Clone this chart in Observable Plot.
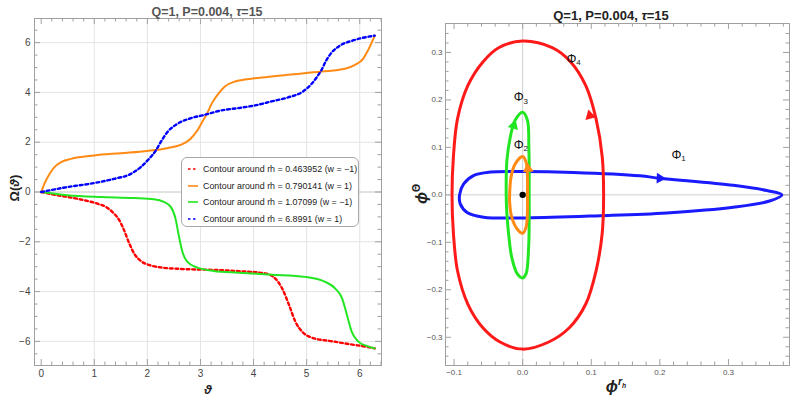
<!DOCTYPE html>
<html><head><meta charset="utf-8">
<script src="https://cdn.jsdelivr.net/npm/d3@7"></script>
<script src="https://cdn.jsdelivr.net/npm/@observablehq/plot@0.6"></script>
<style>
body{margin:0;background:#fff;font-family:"Liberation Sans",Arial,sans-serif;}
#wrap{position:relative;width:796px;height:418px;overflow:hidden;background:#fff;}
#left,#right{position:absolute;top:0;}
#left{left:0;} #right{left:400px;}
.lbl{position:absolute;white-space:nowrap;transform:translate(-50%,-50%);line-height:1;}
#legend{position:absolute;left:181px;top:157px;width:178px;height:70px;border:1px solid #a8a8a8;border-radius:6px;background:#fff;box-sizing:border-box;padding-top:3px;}
.row{height:16.5px;display:flex;align-items:center;font-size:8.9px;color:#222;white-space:nowrap;}
.row svg{margin-left:6px;margin-right:5px;flex:none;}
sup,sub{font-size:65%;}
</style></head>
<body><div id="wrap"><div id="left"></div><div id="right"></div></div>
<script>
// ---------- Left panel data: Omega(theta) ----------
const redCurve = [[0,0],[0.25,-0.11],[0.5,-0.2],[0.81,-0.33],[1.06,-0.47],[1.22,-0.6],[1.34,-0.8],[1.47,-1.13],[1.56,-1.53],[1.66,-2.07],[1.75,-2.47],[1.875,-2.77],[2.03,-2.93],[2.25,-3.03],[2.625,-3.09],[3.25,-3.13],[3.72,-3.18],[4.22,-3.27],[4.41,-3.48],[4.54,-3.88],[4.67,-4.55],[4.79,-5.22],[4.92,-5.62],[5.11,-5.86],[5.49,-6.0],[5.86,-6.13],[6.11,-6.21],[6.283,-6.283]];
const orangeCurve = [[0,0],[0.06,0.33],[0.16,0.73],[0.25,1.0],[0.375,1.2],[0.56,1.33],[1.0,1.47],[1.5,1.56],[2.0,1.65],[2.375,1.76],[2.625,1.89],[2.81,2.13],[2.94,2.47],[3.03,2.8],[3.125,3.16],[3.22,3.58],[3.33,3.93],[3.46,4.24],[3.65,4.44],[4.03,4.57],[4.65,4.71],[5.28,4.84],[5.72,4.95],[5.91,5.11],[6.07,5.37],[6.16,5.71],[6.283,6.283]];
const greenCurve = [[0,0],[0.5,-0.13],[1.125,-0.2],[1.75,-0.24],[2.125,-0.29],[2.31,-0.4],[2.44,-0.6],[2.53,-1.07],[2.59,-1.73],[2.66,-2.4],[2.75,-2.8],[2.94,-3.04],[3.25,-3.17],[3.72,-3.24],[4.35,-3.32],[4.97,-3.41],[5.35,-3.61],[5.54,-3.88],[5.67,-4.28],[5.76,-4.95],[5.85,-5.62],[5.98,-6.02],[6.13,-6.18],[6.283,-6.283]];
const blueCurve = [[0,0],[0.5,0.2],[1.0,0.36],[1.375,0.53],[1.69,0.73],[1.875,1.0],[2.03,1.33],[2.16,1.67],[2.25,2.0],[2.375,2.4],[2.56,2.73],[2.81,2.96],[3.06,3.09],[3.4,3.28],[3.71,3.37],[4.03,3.48],[4.34,3.64],[4.65,3.8],[4.91,4.01],[5.1,4.36],[5.2,4.64],[5.28,4.9],[5.36,5.25],[5.47,5.6],[5.62,5.87],[5.91,6.11],[6.283,6.283]];
const legendLabels = ["Contour around rh = 0.463952 (w = \u22121)","Contour around rh = 0.790141 (w = 1)","Contour around rh = 1.07099 (w = \u22121)","Contour around rh = 6.8991 (w = 1)"];
const leftXTicks = [0,1,2,3,4,5,6];
const leftYTicks = [-6,-4,-2,0,2,4,6];

// ---------- Right panel data: contours in (phi^rh, phi^theta) ----------
const phi4 = [[0,0.324],[-0.035,0.31],[-0.058,0.28],[-0.08,0.23],[-0.095,0.16],[-0.101,0.08],[-0.103,0],[-0.101,-0.08],[-0.095,-0.16],[-0.08,-0.23],[-0.058,-0.28],[-0.033,-0.31],[0,-0.325],[0.038,-0.31],[0.068,-0.28],[0.092,-0.23],[0.107,-0.16],[0.116,-0.08],[0.118,0],[0.116,0.08],[0.107,0.16],[0.092,0.23],[0.07,0.28],[0.043,0.31]];
const phi3 = [[0,0.174],[-0.011,0.157],[-0.018,0.122],[-0.023,0.072],[-0.024,0],[-0.023,-0.04],[-0.02,-0.089],[-0.016,-0.131],[-0.008,-0.166],[0,-0.175],[0.005,-0.166],[0.0087,-0.11],[0.0095,-0.054],[0.0095,0],[0.0095,0.051],[0.009,0.1],[0.007,0.157]];
const phi2 = [[0,0.081],[-0.011,0.065],[-0.017,0.037],[-0.019,0],[-0.019,-0.015],[-0.016,-0.047],[-0.008,-0.072],[0,-0.081],[0.005,-0.068],[0.007,-0.033],[0.007,0],[0.007,0.037],[0.005,0.069]];
const phi1 = [[0.378,0],[0.356,0.009],[0.307,0.02],[0.2,0.035],[0.171,0.04],[0.074,0.047],[0,0.049],[-0.047,0.048],[-0.071,0.041],[-0.086,0.023],[-0.092,0],[-0.091,-0.019],[-0.081,-0.037],[-0.057,-0.047],[0.006,-0.0485],[0.113,-0.044],[0.21,-0.038],[0.307,-0.026],[0.36,-0.013]];
const arrowX = [0.098,-0.013,0.0078,0.2];
const arrowY = [0.167,0.146,0.055,0.035];
const arrowAngle = [-14,17,-4,92];
const arrowColor = ["#ff1a1a","#22e622","#ff8a14","#1a1aff"];
const phiLabelX = [0.227,-0.003,-0.003,0.074];
const phiLabelY = [0.085,0.106,0.206,0.287];
const phiLabelSub = ["1","2","3","4"];
const rightXTicks = [-0.1,0,0.1,0.2,0.3];
const rightYTicks = [-0.3,-0.2,-0.1,0,0.1,0.2,0.3];

const RED="#ff0000", ORANGE="#ff8a14", GREEN="#22e622", BLUE="#0000ff";
const frameCol = "#a0a0a0";
const font = "Liberation Sans, Arial, sans-serif";

function tickMarks(majX, minX, majY, minY, iw, ih) {
  const o = {stroke: frameCol, strokeWidth: 1};
  return [
    Plot.tickX(majX, {...o, x: d=>d, insetTop: ih-6}),
    Plot.tickX(majX, {...o, x: d=>d, insetBottom: ih-6}),
    Plot.tickX(minX, {...o, x: d=>d, insetTop: ih-3.5}),
    Plot.tickX(minX, {...o, x: d=>d, insetBottom: ih-3.5}),
    Plot.tickY(majY, {...o, y: d=>d, insetRight: iw-6}),
    Plot.tickY(majY, {...o, y: d=>d, insetLeft: iw-6}),
    Plot.tickY(minY, {...o, y: d=>d, insetRight: iw-3.5}),
    Plot.tickY(minY, {...o, y: d=>d, insetLeft: iw-3.5})
  ];
}

// ---- Left plot ----
{
  const W=400,H=400,mt=18,mb=35,ml=34,mr=19;
  const iw=W-ml-mr, ih=H-mt-mb;
  const minX = d3.range(0,6.41,0.2).map(v=>+v.toFixed(2)).filter(v=>Math.abs(v-Math.round(v))>1e-6);
  const minY = d3.range(-6.5,6.51,0.5).filter(v=>v%2!==0);
  const line = (data, stroke, extra) => Plot.line(data, {x: d=>d[0], y: d=>d[1], stroke, curve: "monotone-x", ...extra});
  const p = Plot.plot({
    width: W, height: H, marginTop: mt, marginBottom: mb, marginLeft: ml, marginRight: mr,
    x: {domain: [-0.126, 6.41]}, y: {domain: [-6.97, 6.97]},
    style: {fontFamily: font, fontSize: "10px", color: "#444", background: "transparent"},
    marks: [
      Plot.gridX(leftXTicks.filter(v=>v>0), {stroke: "#e4e4e4", strokeOpacity: 1}),
      Plot.gridY(leftYTicks.filter(v=>v!==0), {stroke: "#e4e4e4", strokeOpacity: 1}),
      Plot.ruleY([0], {stroke: "#c4c4c4"}),
      line(redCurve, RED, {strokeWidth: 2.4, strokeDasharray: "2.8,2.8"}),
      line(orangeCurve, ORANGE, {strokeWidth: 2}),
      line(greenCurve, GREEN, {strokeWidth: 2}),
      line(blueCurve, BLUE, {strokeWidth: 2.4, strokeDasharray: "2.8,2.8"}),
      Plot.frame({stroke: frameCol}),
      ...tickMarks(leftXTicks, minX, leftYTicks, minY, iw, ih),
      Plot.axisX(leftXTicks, {tickSize: 0, tickPadding: 4, label: null, fill: "#444"}),
      Plot.axisY(leftYTicks, {tickSize: 0, tickPadding: 4, label: null, fill: "#444"})
    ]
  });
  document.getElementById("left").appendChild(p);
}

// ---- Right plot ----
{
  const W=396,H=400,mt=23,mb=35,ml=45,mr=7;
  const iw=W-ml-mr, ih=H-mt-mb;
  const minX = d3.range(-0.1,0.39,0.02).map(v=>+v.toFixed(3)).filter(v=>Math.abs(v*10-Math.round(v*10))>1e-6);
  const minY = d3.range(-0.34,0.35,0.02).map(v=>+v.toFixed(3)).filter(v=>Math.abs(v*10-Math.round(v*10))>1e-6);
  const loop = (data, stroke) => Plot.line(data, {x: d=>d[0], y: d=>d[1], stroke, strokeWidth: 3, curve: "catmull-rom-closed"});
  const arrows = arrowX.map((x,i)=>({x, y: arrowY[i], a: arrowAngle[i], c: arrowColor[i]}));
  const labels = phiLabelX.map((x,i)=>({x, y: phiLabelY[i], s: phiLabelSub[i]}));
  const fmt = d3.format(".1f");
  const p = Plot.plot({
    width: W, height: H, marginTop: mt, marginBottom: mb, marginLeft: ml, marginRight: mr,
    x: {domain: [-0.1125, 0.389]}, y: {domain: [-0.3595, 0.361]},
    style: {fontFamily: font, fontSize: "8px", color: "#555", background: "transparent"},
    marks: [
      Plot.ruleX([0], {stroke: "#cfcfcf"}),
      Plot.ruleY([0], {stroke: "#cfcfcf"}),
      loop(phi1, "#1a1aff"),
      loop(phi3, GREEN),
      loop(phi2, ORANGE),
      loop(phi4, "#ff1a1a"),
      Plot.dot(arrows, {x: "x", y: "y", symbol: "triangle", r: 4, fill: "c", stroke: "none", rotate: "a"}),
      Plot.dot([[0,0]], {x: d=>d[0], y: d=>d[1], r: 3.2, fill: "#000"}),
      Plot.text(labels, {x: "x", y: "y", text: () => "\u03a6", fontSize: 12.5, fill: "#111", dx: -2}),
      Plot.text(labels, {x: "x", y: "y", text: "s", fontSize: 8, fill: "#111", dx: 5, dy: 4}),
      Plot.frame({stroke: frameCol}),
      ...tickMarks(rightXTicks, minX, rightYTicks, minY, iw, ih),
      Plot.axisX(rightXTicks, {tickSize: 0, tickPadding: 4, label: null, tickFormat: fmt, fill: "#555"}),
      Plot.axisY(rightYTicks, {tickSize: 0, tickPadding: 3, label: null, tickFormat: fmt, fill: "#555"})
    ]
  });
  document.getElementById("right").appendChild(p);
}

// ---- Titles, axis labels, legend ----
const wrap = document.getElementById("wrap");
function addLabel(html, x, y, css) {
  const d = document.createElement("div");
  d.className = "lbl";
  d.innerHTML = html;
  d.style.left = x + "px"; d.style.top = y + "px";
  Object.assign(d.style, css || {});
  wrap.appendChild(d);
  return d;
}
const titleText = "Q=1, P=0.004, <i>\u03c4</i>=15";
addLabel(titleText, 207, 12, {fontWeight: "bold", fontSize: "12.5px", color: "#555"});
addLabel(titleText, 611, 15, {fontWeight: "bold", fontSize: "13px", color: "#222"});
addLabel("\u03a9(<i>\u03d1</i>)", 14, 188, {fontWeight: "bold", fontSize: "13px", color: "#222", transform: "translate(-50%,-50%) rotate(-90deg)"});
addLabel("<i>\u03d1</i>", 208, 389, {fontWeight: "bold", fontSize: "13px", color: "#222"});
addLabel("<i>\u03d5</i><sup>\u0398</sup>", 421, 194, {fontWeight: "bold", fontSize: "16px", color: "#222", transform: "translate(-50%,-50%) rotate(-90deg)"});
addLabel("<i>\u03d5</i><sup><i>r<sub>h</sub></i></sup>", 616, 386, {fontWeight: "bold", fontSize: "16px", color: "#222"});

const legendColors = [RED, ORANGE, GREEN, BLUE];
const legendDash = ["2.5,2.5", null, null, "2.5,2.5"];
const lg = document.createElement("div");
lg.id = "legend";
legendLabels.forEach((t,i)=>{
  const r = document.createElement("div");
  r.className = "row";
  r.innerHTML = `<svg width="10" height="6"><line x1="0" y1="3" x2="10" y2="3" stroke="${legendColors[i]}" stroke-width="1.6" ${legendDash[i]?`stroke-dasharray="${legendDash[i]}"`:""}/></svg><span>${t}</span>`;
  lg.appendChild(r);
});
wrap.appendChild(lg);
</script></body></html>
